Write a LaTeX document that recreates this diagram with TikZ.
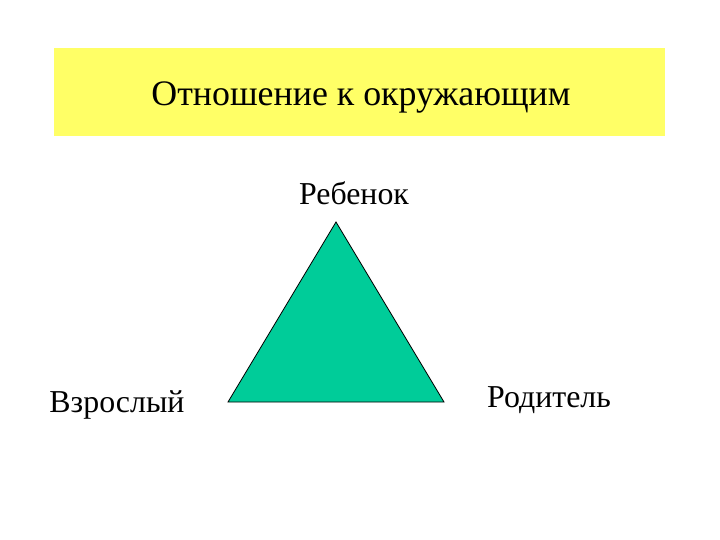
\documentclass[tikz,border=0pt]{standalone}
\usepackage{fontspec}
\setmainfont{Liberation Serif}
\definecolor{boxyellow}{HTML}{FFFF66}
\definecolor{triteal}{HTML}{00CC99}
\tikzset{
  lbl/.style={inner sep=0pt, font=\fontsize{32}{36}\selectfont},
  ttl/.style={inner sep=0pt, font=\fontsize{36}{40}\selectfont},
}
\begin{document}
\begin{tikzpicture}[x=1bp,y=-1bp]
\useasboundingbox[fill=white] (0,0) rectangle (720,540);
\fill[boxyellow] (54,48) rectangle (665,136);
\node[ttl] (title) at (361,97) {Отношение к окружающим};
\coordinate (top) at (336,222);
\coordinate (bl) at (228,402);
\coordinate (br) at (444,402);
\filldraw[fill=triteal, draw=black, line width=0.8bp] (top) -- (bl) -- (br) -- cycle;
\node[lbl] (child) at (354,193) {Ребенок};
\node[lbl] (adult) at (117,405) {Взрослый};
\node[lbl] (parent) at (549,400) {Родитель};
\end{tikzpicture}
\end{document}
